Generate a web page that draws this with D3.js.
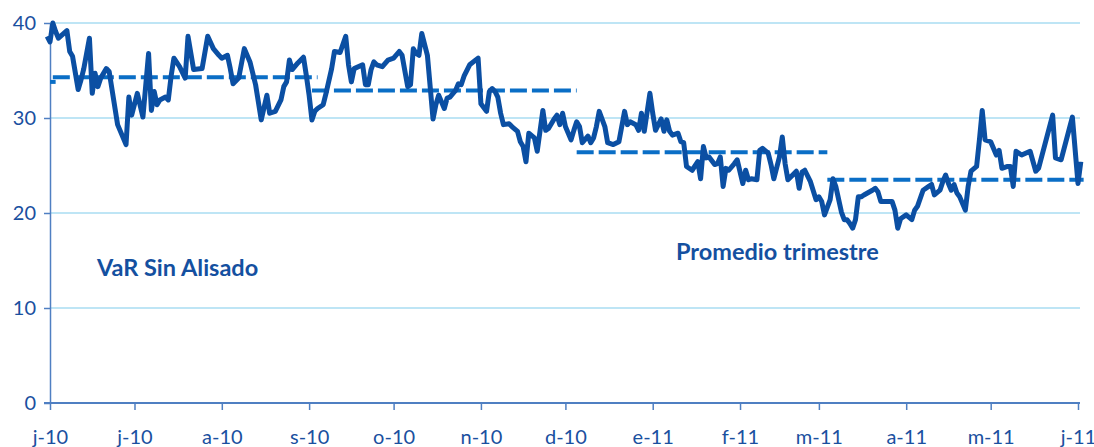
<!DOCTYPE html>
<html>
<head>
<meta charset="utf-8">
<script src="https://cdn.jsdelivr.net/npm/d3@7"></script>
<style>
  html, body { margin: 0; padding: 0; background: #fff; }
  svg { display: block; }
</style>
</head>
<body>
<div id="chart"></div>
<script>
// data
let var_dates = [
  "2010-05-31","2010-06-01","2010-06-02","2010-06-03","2010-06-04","2010-06-07","2010-06-08","2010-06-09",
  "2010-06-11","2010-06-12","2010-06-13","2010-06-15","2010-06-16","2010-06-17","2010-06-18","2010-06-19",
  "2010-06-21","2010-06-22","2010-06-25","2010-06-28","2010-06-29","2010-06-30","2010-07-02","2010-07-04",
  "2010-07-06","2010-07-07","2010-07-08","2010-07-09","2010-07-10","2010-07-12","2010-07-13","2010-07-14",
  "2010-07-15","2010-07-17","2010-07-19","2010-07-20","2010-07-22","2010-07-25","2010-07-27","2010-07-29",
  "2010-07-31","2010-08-01","2010-08-03","2010-08-04","2010-08-05","2010-08-07","2010-08-09","2010-08-11",
  "2010-08-13","2010-08-15","2010-08-17","2010-08-18","2010-08-20","2010-08-22","2010-08-23","2010-08-24",
  "2010-08-25","2010-08-26","2010-08-28","2010-08-30","2010-08-31","2010-09-01","2010-09-02","2010-09-03",
  "2010-09-04","2010-09-06","2010-09-07","2010-09-09","2010-09-10","2010-09-12","2010-09-14","2010-09-15",
  "2010-09-16","2010-09-17","2010-09-20","2010-09-21","2010-09-22","2010-09-23","2010-09-24","2010-09-25",
  "2010-09-27","2010-09-29","2010-10-01","2010-10-03","2010-10-04","2010-10-06","2010-10-07","2010-10-08",
  "2010-10-09","2010-10-10","2010-10-11","2010-10-13","2010-10-15","2010-10-16","2010-10-17","2010-10-19",
  "2010-10-20","2010-10-21","2010-10-23","2010-10-24","2010-10-25","2010-10-26","2010-10-28","2010-10-31",
  "2010-11-01","2010-11-03","2010-11-04","2010-11-05","2010-11-06","2010-11-07","2010-11-08","2010-11-09",
  "2010-11-11","2010-11-12","2010-11-14","2010-11-15","2010-11-16","2010-11-17","2010-11-18","2010-11-20",
  "2010-11-21","2010-11-23","2010-11-24","2010-11-25","2010-11-27","2010-11-28","2010-11-29","2010-11-30",
  "2010-12-01","2010-12-03","2010-12-04","2010-12-05","2010-12-06","2010-12-07","2010-12-09","2010-12-10",
  "2010-12-11","2010-12-12","2010-12-13","2010-12-15","2010-12-16","2010-12-18","2010-12-20","2010-12-22",
  "2010-12-23","2010-12-24","2010-12-26","2010-12-27","2010-12-28","2010-12-29","2010-12-31","2011-01-01",
  "2011-01-02","2011-01-04","2011-01-05","2011-01-06","2011-01-07","2011-01-08","2011-01-10","2011-01-11",
  "2011-01-12","2011-01-13","2011-01-15","2011-01-17","2011-01-18","2011-01-19","2011-01-20","2011-01-21",
  "2011-01-23","2011-01-24","2011-01-25","2011-01-26","2011-01-27","2011-01-28","2011-01-30","2011-01-31",
  "2011-02-02","2011-02-03","2011-02-04","2011-02-05","2011-02-07","2011-02-08","2011-02-09","2011-02-11",
  "2011-02-12","2011-02-13","2011-02-15","2011-02-16","2011-02-17","2011-02-18","2011-02-19","2011-02-21",
  "2011-02-22","2011-02-23","2011-02-24","2011-02-26","2011-02-28","2011-03-01","2011-03-02","2011-03-03",
  "2011-03-05","2011-03-06","2011-03-07","2011-03-09","2011-03-10","2011-03-11","2011-03-12","2011-03-13",
  "2011-03-14","2011-03-15","2011-03-16","2011-03-17","2011-03-20","2011-03-21","2011-03-22","2011-03-23",
  "2011-03-27","2011-03-28","2011-03-29","2011-03-30","2011-04-01","2011-04-03","2011-04-04","2011-04-05",
  "2011-04-07","2011-04-09","2011-04-10","2011-04-11","2011-04-13","2011-04-14","2011-04-15","2011-04-16",
  "2011-04-17","2011-04-18","2011-04-19","2011-04-20","2011-04-22","2011-04-23","2011-04-24","2011-04-26",
  "2011-04-27","2011-04-28","2011-04-29","2011-05-01","2011-05-03","2011-05-04","2011-05-05","2011-05-07",
  "2011-05-08","2011-05-09","2011-05-10","2011-05-12","2011-05-15","2011-05-17","2011-05-18","2011-05-23",
  "2011-05-24","2011-05-26","2011-05-30","2011-06-01","2011-06-02"
];
let var_values = [
  38.6,38.0,40.0,39.1,38.4,39.2,37.0,36.5,
  33.0,34.0,35.2,38.4,32.6,34.7,33.3,34.2,
  35.2,34.9,29.3,27.2,32.2,30.3,32.6,30.1,
  36.8,30.8,32.8,31.4,31.9,32.2,31.9,34.4,
  36.3,35.4,34.2,38.6,35.1,35.2,38.6,37.3,
  36.6,36.3,36.6,35.2,33.6,34.2,37.3,35.9,
  33.5,29.8,32.4,30.5,30.7,31.9,33.3,33.8,
  36.1,35.1,35.8,36.4,34.5,32.4,29.8,30.7,
  31.0,31.4,32.6,35.2,37.0,36.9,38.6,35.6,
  33.8,35.2,35.6,33.5,33.5,35.1,35.9,35.6,
  35.4,36.1,36.3,37.0,36.6,33.3,33.5,37.3,
  36.8,36.6,38.9,36.6,29.9,31.4,32.4,31.0,
  32.1,32.2,32.9,33.6,33.5,34.4,35.6,36.3,
  31.5,30.7,32.8,33.1,32.8,32.2,30.5,29.3,
  29.4,29.1,28.6,27.5,27.0,25.4,28.4,27.9,
  26.5,30.8,28.7,28.9,29.9,30.3,29.3,30.5,
  29.1,27.7,28.7,29.6,29.1,27.4,28.1,27.4,
  27.9,29.1,30.7,29.1,27.4,27.2,27.5,30.7,
  29.3,29.6,29.3,28.7,30.5,28.6,32.6,30.5,
  28.7,29.9,28.6,29.8,28.6,28.2,28.4,27.5,
  27.4,24.9,24.5,25.4,23.6,27.0,25.8,25.9,
  25.1,25.2,25.9,22.8,24.7,24.5,25.2,25.6,
  23.1,24.5,23.5,23.6,23.5,26.6,26.8,26.3,
  25.1,23.6,25.9,28.0,25.2,23.5,23.8,24.4,
  22.6,24.3,24.5,23.3,21.4,21.7,21.2,19.8,
  21.4,23.6,22.8,20.1,19.3,19.3,18.9,18.4,
  19.3,21.7,21.7,21.9,22.4,22.6,22.2,21.2,
  21.2,20.3,18.4,19.4,19.8,19.3,20.3,20.7,
  22.4,22.8,23.0,21.9,22.4,23.3,24.0,23.1,
  22.4,23.0,22.1,21.7,20.3,22.8,24.4,24.9,
  27.7,30.8,27.7,27.5,26.1,26.6,24.7,24.9,
  24.9,22.8,26.5,26.1,26.5,24.4,24.7,30.3,
  25.8,25.6,30.1,23.1,25.4
];

// quarterly averages (dashed)
let avg_starts = ["2010-06-01","2010-06-02","2010-09-02","2010-12-05","2011-03-04"];
let avg_ends   = ["2010-06-03","2010-09-04","2010-12-05","2011-03-04","2011-06-03"];
let avg_values = [33.8, 34.3, 32.9, 26.4, 23.5];

let y_ticks = [0, 10, 20, 30, 40];
let month_initials = ["e","f","m","a","m","j","j","a","s","o","n","d"];

let W = 1094, H = 447;
let x0 = 50, x1 = 1078, y_top = 23, y_bot = 403;
let grid_end = 1080;

let parse = d3.timeParse("%Y-%m-%d");

let x = d3.scaleTime()
          .domain([parse("2010-06-01"), parse("2011-06-01")])
          .range([x0, x1]);
let y = d3.scaleLinear()
          .domain([0, 40])
          .range([y_bot, y_top]);

let svg = d3.select("#chart")
            .append("svg")
              .attr("width", W)
              .attr("height", H)
              .attr("xmlns", "http://www.w3.org/2000/svg");

let font = "Lato, 'Open Sans', sans-serif";
let txt_col = "#1a509f";

// grid
svg.append("g")
   .selectAll("line")
   .data(y_ticks.filter(d => d > 0))
   .join("line")
     .attr("x1", x0).attr("x2", grid_end)
     .attr("y1", d => y(d)).attr("y2", d => y(d))
     .attr("stroke", "#a8dcf2")
     .attr("stroke-width", 1.3);

// y axis
let y_axis = d3.axisLeft(y).tickValues(y_ticks).tickSize(6).tickSizeOuter(0).tickPadding(8);
let gy = svg.append("g").attr("transform", "translate(" + x0 + ",0)").call(y_axis);
gy.select(".domain").attr("stroke", "#4f7fc2").attr("stroke-width", 1.5);
gy.selectAll(".tick line").attr("stroke", "#4f7fc2").attr("stroke-width", 1.5);
gy.selectAll(".tick text")
  .attr("font-family", font).attr("font-size", "20px").attr("fill", txt_col);

// x axis
let x_axis = d3.axisBottom(x)
               .ticks(d3.timeMonth.every(1))
               .tickSize(7).tickSizeOuter(0).tickPadding(20)
               .tickFormat(d => month_initials[d.getMonth()] + "-" + d3.timeFormat("%y")(d));
let gx = svg.append("g").attr("transform", "translate(0," + y_bot + ")").call(x_axis);
gx.select(".domain").attr("d", "M" + (x0 - 6) + ",0H" + grid_end)
  .attr("stroke", "#4f7fc2").attr("stroke-width", 2);
gx.selectAll(".tick line").attr("stroke", "#4f7fc2").attr("stroke-width", 1.5);
gx.selectAll(".tick text")
  .attr("font-family", font).attr("font-size", "20px").attr("fill", txt_col)
  .attr("dy", "0.71em");

// dashed averages
svg.append("g")
   .selectAll("line")
   .data(avg_values)
   .join("line")
     .attr("x1", (d, i) => x(parse(avg_starts[i])))
     .attr("x2", (d, i) => x(parse(avg_ends[i])))
     .attr("y1", d => y(d)).attr("y2", d => y(d))
     .attr("stroke", "#0a6ec6")
     .attr("stroke-width", 4)
     .attr("stroke-dasharray", "17,5");

// VaR line
let pts = var_dates.map((d, i) => [parse(d), var_values[i]]);
let line = d3.line().x(d => x(d[0])).y(d => y(d[1]));
svg.append("path")
   .datum(pts)
   .attr("d", line)
   .attr("fill", "none")
   .attr("stroke", "#0b4fa3")
   .attr("stroke-width", 5)
   .attr("stroke-linejoin", "round");

// labels
svg.append("text")
   .attr("x", 97).attr("y", 276)
   .attr("font-family", font).attr("font-weight", "bold").attr("font-size", "23.5px")
   .attr("fill", "#1450a0")
   .text("VaR Sin Alisado");
svg.append("text")
   .attr("x", 676).attr("y", 260)
   .attr("font-family", font).attr("font-weight", "bold").attr("font-size", "23.5px")
   .attr("fill", "#1450a0")
   .text("Promedio trimestre");
</script>
</body>
</html>
